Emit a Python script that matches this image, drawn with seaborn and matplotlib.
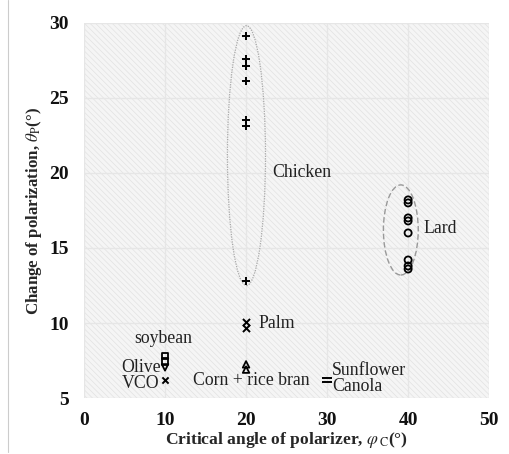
import matplotlib
matplotlib.use("Agg")
import matplotlib.pyplot as plt
import seaborn as sns
import pandas as pd
from matplotlib.patches import Ellipse, Rectangle
from matplotlib.lines import Line2D

# ---- data ----
chicken_x = [20] * 7
chicken_y = [29.1, 27.6, 27.1, 26.1, 23.5, 23.1, 12.8]
palm_x = [20, 20]
palm_y = [10.1, 9.7]
corn_x = [20, 20]
corn_y = [7.25, 6.9]
lard_x = [40] * 8
lard_y = [18.2, 18.0, 17.0, 16.8, 16.0, 14.2, 13.8, 13.6]
soy_x = [10, 10]
soy_y = [7.8, 7.45]
olive_x = [10]
olive_y = [7.05]
vco_x = [10]
vco_y = [6.2]
sunfl_x = [30, 30]
sunfl_y = [6.35, 6.05]

x_ticks = [0, 10, 20, 30, 40, 50]
y_ticks = [5, 10, 15, 20, 25, 30]

sns.set_theme(style="white")
plt.rcParams['font.family'] = ['Liberation Serif', 'DejaVu Serif']
plt.rcParams['mathtext.fontset'] = 'stix'
plt.rcParams['hatch.linewidth'] = 0.5
plt.rcParams['hatch.color'] = '#e0e0e0'

fig = plt.figure(figsize=(5.09, 4.54), dpi=100)
ax = fig.add_axes([0.165, 0.123, 0.796, 0.827])
ax.set_facecolor('#f5f5f5')
ax.add_patch(Rectangle((0, 5), 50, 25, facecolor='#f5f5f5', edgecolor='#e2e2e2',
                       hatch='\\\\\\\\\\\\', lw=0, zorder=0))

groups = [
    (chicken_x, chicken_y, '+', 40, True),
    (palm_x, palm_y, 'x', 26, True),
    (corn_x, corn_y, '^', 22, False),
    (lard_x, lard_y, 'o', 26, False),
    (soy_x, soy_y, 's', 22, False),
    (olive_x, olive_y, 'v', 22, False),
    (vco_x, vco_y, 'x', 20, True),
    (sunfl_x, sunfl_y, '_', 42, True),
]
for xs, ys, m, s, filled in groups:
    df = pd.DataFrame({'x': xs, 'y': ys})
    if filled:
        sns.scatterplot(data=df, x='x', y='y', marker=m, s=s, color='black',
                        linewidth=1.4, ax=ax, zorder=3)
    else:
        sns.scatterplot(data=df, x='x', y='y', marker=m, s=s, facecolor='none',
                        edgecolor='black', linewidth=1.3, ax=ax, zorder=3)

ax.add_patch(Ellipse((20.05, 21.15), 4.7, 17.3, fill=False, edgecolor='#a8a8a8',
                     lw=0.9, ls=(0, (1, 1)), zorder=2))
ax.add_patch(Ellipse((39.1, 16.2), 4.3, 6.0, fill=False, edgecolor='#999999',
                     lw=1.0, ls=(0, (4, 2)), zorder=2))

tk = dict(fontsize=12.8, color='#222222')
ax.text(23.2, 20.0, 'Chicken', ha='left', va='center', **tk)
ax.text(41.9, 16.3, 'Lard', ha='left', va='center', **tk)
ax.text(21.5, 10.0, 'Palm', ha='left', va='center', **tk)
ax.text(9.8, 8.95, 'soybean', ha='center', va='center', **tk)
ax.text(9.45, 7.05, 'Olive', ha='right', va='center', **tk)
ax.text(9.3, 5.95, 'VCO', ha='right', va='center', **tk)
ax.text(13.5, 6.2, 'Corn + rice bran', ha='left', va='center', **tk)
ax.text(30.6, 6.85, 'Sunflower', ha='left', va='center', **tk)
ax.text(30.6, 5.75, 'Canola', ha='left', va='center', **tk)

ax.set_xlim(0, 50)
ax.set_ylim(5, 30)
ax.set_xticks(x_ticks)
ax.set_yticks(y_ticks)
ax.set_xticklabels([str(t) for t in x_ticks], fontweight='bold', fontsize=14)
ax.set_yticklabels([str(t) for t in y_ticks], fontweight='bold', fontsize=14)
ax.tick_params(axis='x', length=0, pad=10, colors='#111111')
ax.tick_params(axis='y', length=0, pad=11, colors='#111111')
ax.grid(True, color='#e6e6e6', lw=1.0)
ax.set_axisbelow(True)
for sp in ax.spines.values():
    sp.set_visible(False)

ax.set_xlabel(r'Critical angle of polarizer, $\varphi_{\,\mathrm{C}}$(°)',
              fontweight='bold', fontsize=12.6, labelpad=1)
ax.set_ylabel(r'Change of polarization, $\theta_{\mathrm{P}}$(°)',
              fontweight='bold', fontsize=12.2, labelpad=4)

fig.add_artist(Line2D([8/509, 8/509], [0.005, 1], color='#cccccc', lw=0.8))

fig.savefig('out.png', dpi=100, facecolor='white')
